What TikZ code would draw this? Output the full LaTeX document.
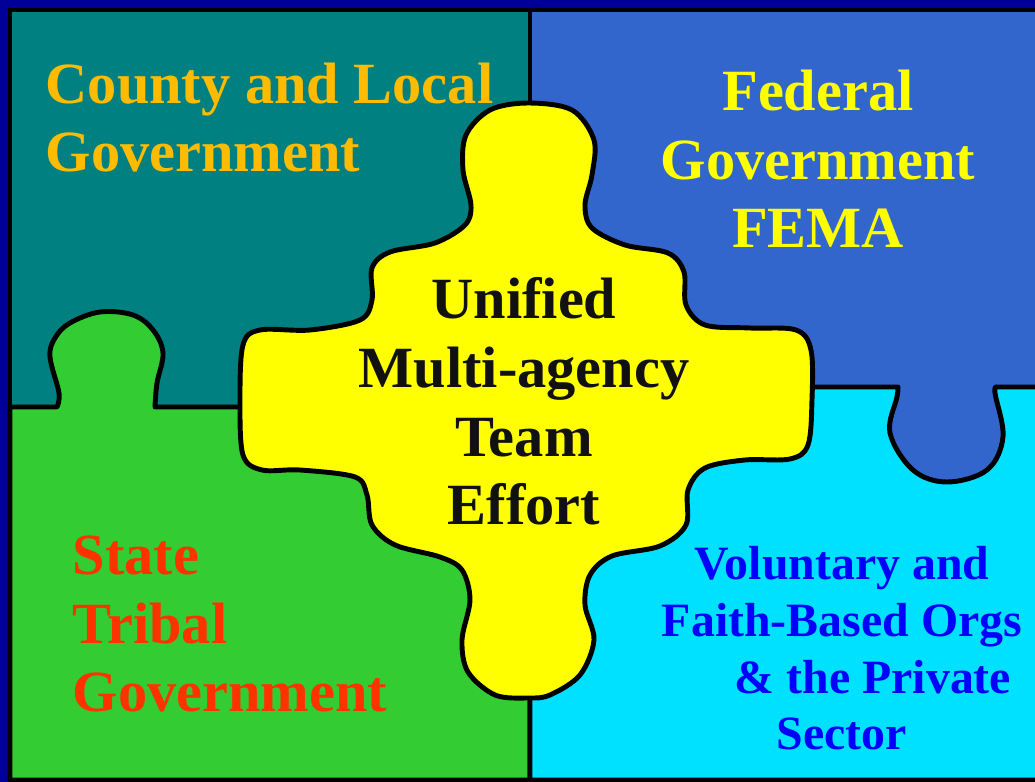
\documentclass[tikz,border=0pt]{standalone}
\usepackage{fontspec}
\setmainfont{Liberation Serif}
\definecolor{frameblue}{HTML}{000099}
\definecolor{countyteal}{HTML}{008080}
\definecolor{fedblue}{HTML}{3366CC}
\definecolor{stategreen}{HTML}{33CC33}
\definecolor{privatecyan}{HTML}{00E1FF}
\definecolor{unifiedyellow}{HTML}{FFFF00}
\definecolor{countygold}{HTML}{FFBB00}
\definecolor{fedtext}{HTML}{FFFF00}
\definecolor{statered}{HTML}{FF3300}
\definecolor{privateblue}{HTML}{0000FF}
\definecolor{teamblack}{HTML}{111111}

\begin{document}
\begin{tikzpicture}[x=0.01cm, y=-0.01cm,
    piece/.style={draw=black, line width=1.4pt, line join=round},
    edge/.style={draw=black, line width=1.4pt},
    bigtext/.style={font=\bfseries\fontsize{16.6}{19.6}\selectfont, inner sep=0pt},
    smalltext/.style={font=\bfseries\fontsize{13.6}{16.2}\selectfont, inner sep=0pt}
]
\useasboundingbox (0,0) rectangle (1035,782);
\clip (0,0) rectangle (1035,782);

% Background and panels
\fill[frameblue] (0,0) rectangle (1035,782);
\fill[countyteal] (10,10) rectangle (530,407);
\fill[fedblue] (530,10) rectangle (1040,500);
\filldraw[fill=stategreen, piece] (10,407) -- plot[smooth, tension=0.6] coordinates {(57,407) (59,393) (50,357) (55,338) (70,323) (100,312) (133,315) (153,330) (163,353) (157,383) (155,407)} -- (530,407) -- (530,780) -- (10,780) -- cycle;
\filldraw[fill=privatecyan, piece] (530,387) -- plot[smooth, tension=0.6] coordinates {(898,387) (897,397) (890,433) (913,470) (947,482) (987,470) (1003,437) (995,393) (997,387)} -- (1040,387) -- (1040,780) -- (530,780) -- cycle;
\draw[edge] (530,10) -- (530,407);
\draw[edge] (1040,10) -- (10,10) -- (10,780) -- (1040,780);

% Centre piece
\filldraw[fill=unifiedyellow, piece] plot[smooth cycle, tension=0.55] coordinates {
  (528,103) (572,110) (594,140) (592,175) (585,205) (592,228) (625,245) (668,253)
  (684,272) (686,305) (705,325) (750,328) (796,330) (811,350) (812,400) (808,445)
  (790,459) (745,460) (705,468) (688,490) (686,525) (660,546) (612,556) (590,575)
  (585,605) (594,640) (580,675) (550,695) (528,698) (495,695) (468,672) (462,640)
  (470,600) (462,570) (440,557) (395,545) (372,525) (367,495) (355,477) (300,470)
  (262,470) (243,455) (240,400) (243,345) (260,330) (310,330) (360,320) (372,300)
  (372,268) (390,252) (435,243) (465,225) (471,205) (463,170) (466,135) (490,110)};

% Labels (anchored at the baseline of the last line)
\node[bigtext, text=countygold, align=left, anchor=base west] (county) at (45,172) {County and Local\\Government};
\node[bigtext, text=fedtext, align=center, anchor=base] (federal) at (818,248) {Federal\\Government\\FEMA};
\node[bigtext, text=teamblack, align=center, anchor=base] (unified) at (524,525) {Unified\\Multi-agency\\Team\\Effort};
\node[bigtext, text=statered, align=left, anchor=base west] (state) at (72,712) {State\\Tribal\\Government};
\node[smalltext, text=privateblue, align=center, anchor=base] (private) at (842,750) {Voluntary and\\Faith-Based Orgs\\\hspace*{17.6pt}\& the Private\\Sector};

\end{tikzpicture}
\end{document}
